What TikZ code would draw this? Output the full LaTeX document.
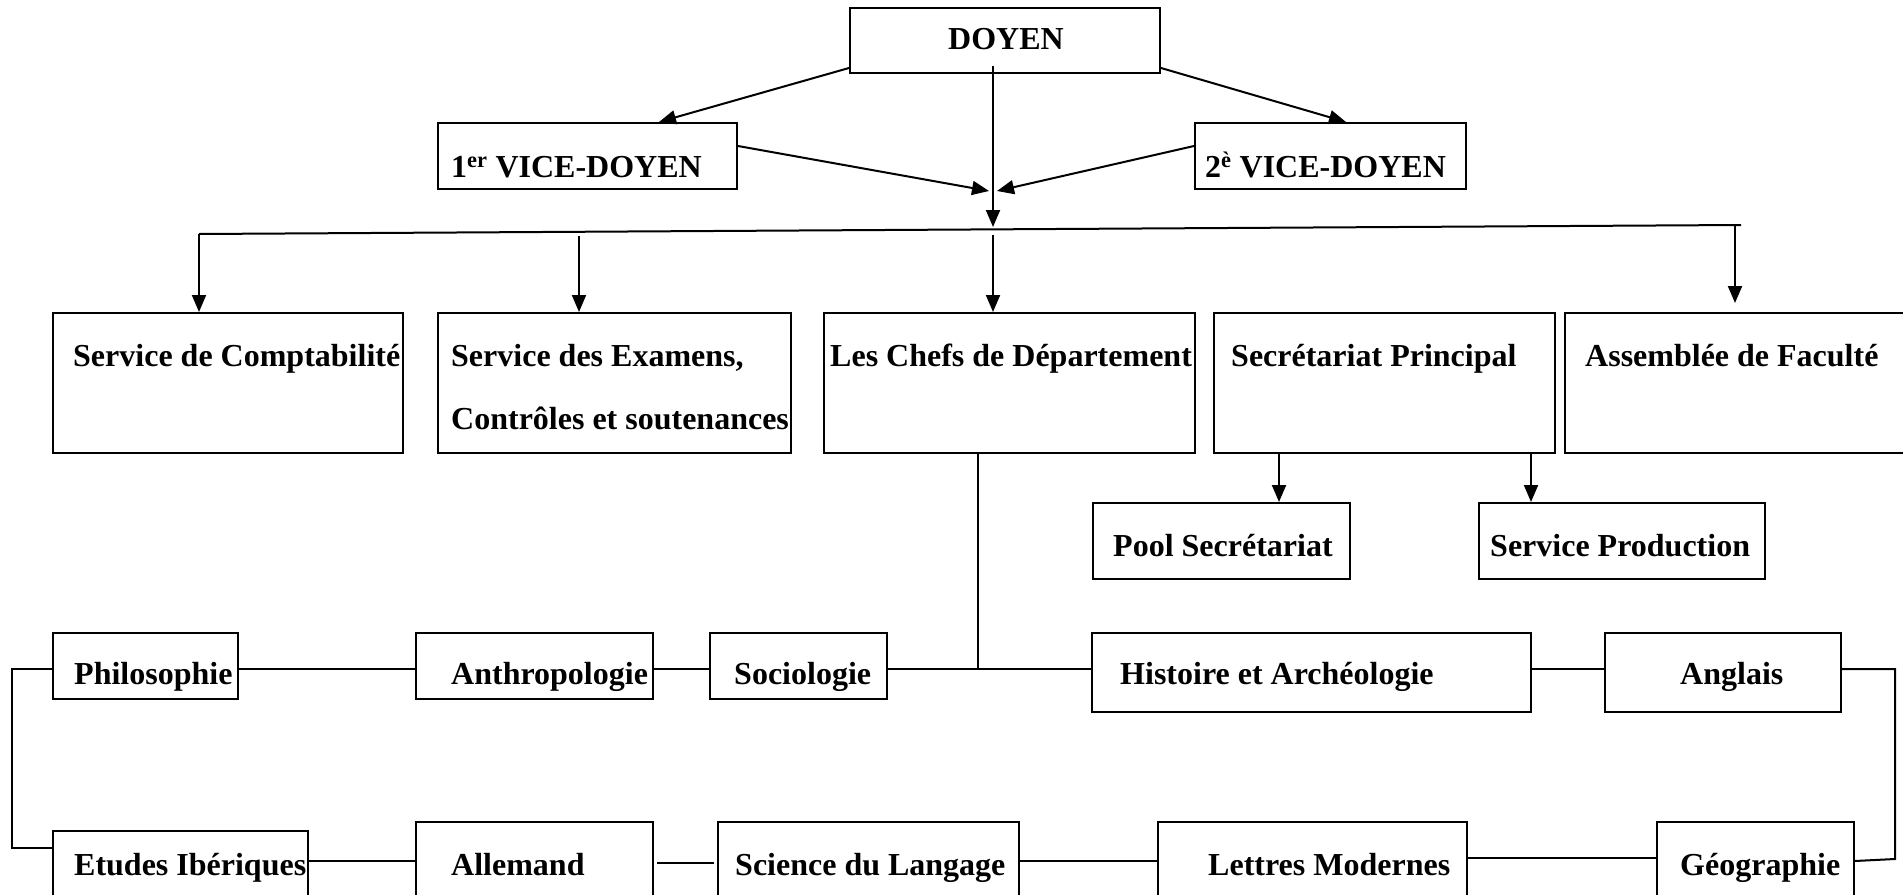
\documentclass[tikz,border=0pt]{standalone}
\usepackage{fontspec}
\setmainfont{Liberation Serif}
\usetikzlibrary{arrows.meta,calc,fit}
\begin{document}
\begin{tikzpicture}[x=1pt,y=-1pt,
  box/.style={draw, line width=2pt, inner sep=0pt, rectangle},
  lbl/.style={font=\fontsize{32}{38}\selectfont\bfseries, inner sep=0pt, anchor=base west},
  conn/.style={line width=2pt},
  arr/.style={line width=2pt, -{Triangle[length=17pt,width=14pt]}}]
\clip (0,0) rectangle (1903,894);
% top
\node[box, fit={(850,8) (1160,73)}] (doyen) {};
\node[lbl, anchor=base] (tdoyen) at (1006,49) {DOYEN};
\node[box, fit={(438,123) (737,189)}] (v1) {};
\node[lbl] (tv1) at (451,177) {1\textsuperscript{er} VICE-DOYEN};
\node[box, fit={(1195,123) (1466,189)}] (v2) {};
\node[lbl] (tv2) at (1205,177) {2\textsuperscript{è} VICE-DOYEN};
% row 2
\node[box, fit={(53,313) (403,453)}] (compta) {};
\node[lbl] (tcompta) at (73,366) {Service de Comptabilité};
\node[box, fit={(438,313) (791,453)}] (exam) {};
\node[lbl] (texama) at (451,366) {Service des Examens,};
\node[lbl] (texamb) at (451,429) {Contrôles et soutenances};
\node[box, fit={(824,313) (1195,453)}] (chefs) {};
\node[lbl] (tchefs) at (830,366) {Les Chefs de Département};
\node[box, fit={(1214,313) (1555,453)}] (secr) {};
\node[lbl] (tsecr) at (1231,366) {Secrétariat Principal};
\node[box, fit={(1565,313) (1920,453)}] (assem) {};
\node[lbl] (tassem) at (1585,366) {Assemblée de Faculté};
\node[box, fit={(1093,503) (1350,579)}] (pool) {};
\node[lbl] (tpool) at (1113,556) {Pool Secrétariat};
\node[box, fit={(1479,503) (1765,579)}] (prod) {};
\node[lbl] (tprod) at (1490,556) {Service Production};
% row 3
\node[box, fit={(53,633) (238,699)}] (philo) {};
\node[lbl] (tphilo) at (74,684) {Philosophie};
\node[box, fit={(416,633) (653,699)}] (anthro) {};
\node[lbl] (tanthro) at (451,684) {Anthropologie};
\node[box, fit={(710,633) (887,699)}] (socio) {};
\node[lbl] (tsocio) at (734,684) {Sociologie};
\node[box, fit={(1092,633) (1531,712)}] (hist) {};
\node[lbl] (thist) at (1120,684) {Histoire et Archéologie};
\node[box, fit={(1605,633) (1841,712)}] (angl) {};
\node[lbl] (tangl) at (1680,684) {Anglais};
% row 4
\node[box, fit={(53,831) (308,920)}] (etudes) {};
\node[lbl] (tetudes) at (74,875) {Etudes Ibériques};
\node[box, fit={(416,822) (653,920)}] (allem) {};
\node[lbl] (tallem) at (451,875) {Allemand};
\node[box, fit={(718,822) (1019,920)}] (sci) {};
\node[lbl] (tsci) at (735,875) {Science du Langage};
\node[box, fit={(1158,822) (1467,920)}] (lettres) {};
\node[lbl] (tlettres) at (1208,875) {Lettres Modernes};
\node[box, fit={(1657,822) (1854,920)}] (geo) {};
\node[lbl] (tgeo) at (1680,875) {Géographie};
% connectors top
\coordinate (jc) at (993,227);
\coordinate (jl) at (989,191);
\coordinate (jr) at (997,191);
\draw[arr] ($(doyen.south west)+(0,-6)$) -- ($(v1.north west)+(222,0)$);
\draw[arr] ($(doyen.south east)+(0,-6)$) -- ($(v2.north west)+(152,0)$);
\draw[arr] ($(doyen.south)+(-12,-8)$) -- (jc);
\draw[arr] ($(v1.north east)+(0,24)$) -- (jl);
\draw[arr] ($(v2.north west)+(0,24)$) -- (jr);
% bus
\coordinate (bl) at (199,234);
\coordinate (br) at (1741,225);
\coordinate (d2) at (579,236);
\coordinate (d3) at (993,235);
\coordinate (d4) at (1735,225);
\coordinate (d4e) at (1735,303);
\draw[conn] (bl) -- (br);
\draw[arr] (bl) -- (bl |- compta.north);
\draw[arr] (d2) -- (d2 |- exam.north);
\draw[arr] (d3) -- (d3 |- chefs.north);
\draw[arr] (d4) -- (d4e);
\draw[arr] ($(secr.south west)+(66,0)$) -- ($(pool.north west)+(187,0)$);
\draw[arr] ($(secr.south west)+(318,0)$) -- ($(prod.north west)+(53,0)$);
% departments
\coordinate (r3) at (978,669);
\coordinate (ll) at (12,848);
\coordinate (rl) at (1895,859);
\draw[conn] ($(chefs.south west)+(155,0)$) -- (r3);
\draw[conn] (philo.east |- r3) -- (anthro.west |- r3);
\draw[conn] (anthro.east |- r3) -- (socio.west |- r3);
\draw[conn] (socio.east |- r3) -- (hist.west |- r3);
\draw[conn] (hist.east |- r3) -- (angl.west |- r3);
\draw[conn] (philo.west |- r3) -- (ll |- r3) -- (ll) -- (etudes.west |- ll);
\draw[conn] (angl.east |- r3) -- (rl |- r3) -- (rl) -- ($(geo.north east)+(0,40)$);
\draw[conn] ($(etudes.north east)+(0,31)$) -- ($(allem.north west)+(0,40)$);
\draw[conn] ($(allem.north east)+(3,42)$) -- ($(sci.north west)+(-3,42)$);
\draw[conn] ($(sci.north east)+(0,40)$) -- ($(lettres.north west)+(0,40)$);
\draw[conn] ($(lettres.north east)+(0,37)$) -- ($(geo.north west)+(0,37)$);
\end{tikzpicture}
\end{document}
